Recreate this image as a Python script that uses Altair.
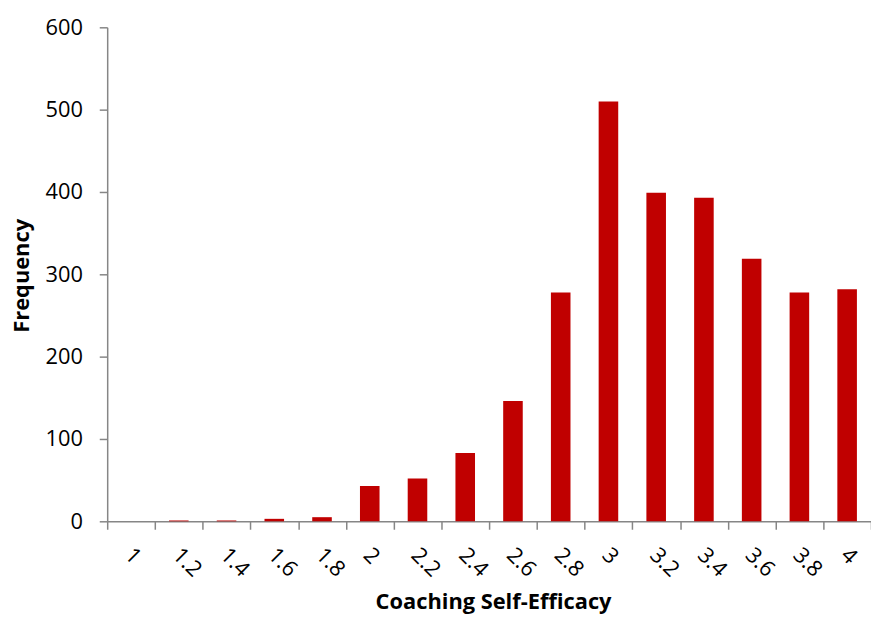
import altair as alt
import pandas as pd

categories = ["1", "1.2", "1.4", "1.6", "1.8", "2", "2.2", "2.4", "2.6", "2.8",
              "3", "3.2", "3.4", "3.6", "3.8", "4"]
frequency = [0, 1, 1, 3, 5, 43, 52, 83, 146, 278, 510, 399, 393, 319, 278, 282]

df = pd.DataFrame({"score": categories, "freq": frequency})

axis_gray = "#868686"
font = "Open Sans"

chart = alt.Chart(df).mark_bar(color="#C00000", width=alt.RelativeBandSize(0.41)).encode(
    x=alt.X("score:N", sort=None,
            scale=alt.Scale(paddingInner=0, paddingOuter=0),
            axis=alt.Axis(title="Coaching Self-Efficacy", labelAngle=45,
                          labelAlign="left", labelBaseline="middle",
                          labelPadding=22, labelOffset=-3, labelFontSize=22,
                          labelFont=font,
                          labelColor="black", tickBand="extent", tickSize=8,
                          tickColor=axis_gray, tickWidth=1.5,
                          domainColor=axis_gray, domainWidth=1.5,
                          titleFont=font, titleFontSize=22, titleFontWeight="bold",
                          titleColor="black", titleBaseline="alphabetic",
                          titleY=88, titleX=389, titleAlign="center")),
    y=alt.Y("freq:Q", scale=alt.Scale(domain=[0, 600]),
            axis=alt.Axis(title="Frequency", values=[0, 100, 200, 300, 400, 500, 600],
                          grid=False, labelFontSize=22, labelFont=font,
                          labelColor="black", labelPadding=17, tickSize=8,
                          tickColor=axis_gray, tickWidth=1.5,
                          domainColor=axis_gray, domainWidth=1.5,
                          titleFont=font, titleFontSize=22, titleFontWeight="bold",
                          titleColor="black", titleAngle=-90, titleX=-86,
                          titleY=250, titleAlign="center", titleBaseline="middle")),
).properties(
    width=770, height=498,
    autosize=alt.AutoSizeParams(type="none"),
    padding={"left": 100, "top": 17, "right": 0, "bottom": 93},
).configure_view(stroke=None)

chart.save("out.html", embed_options={"renderer": "svg", "actions": False})
